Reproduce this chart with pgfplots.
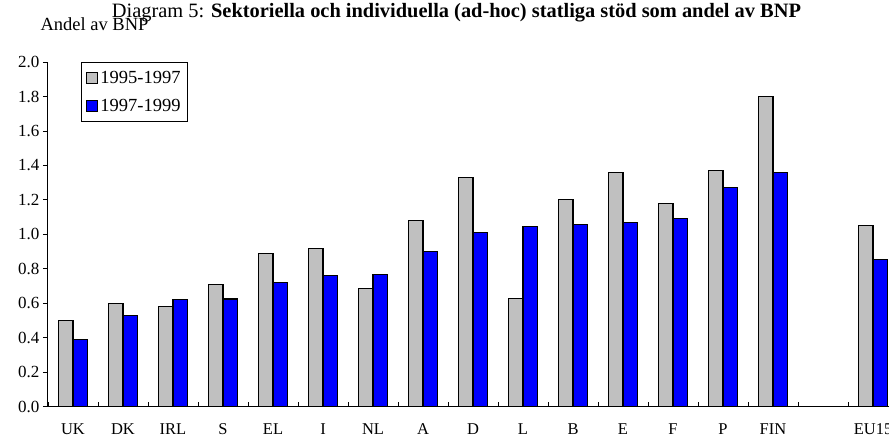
\documentclass[border=0pt]{standalone}
\usepackage{fontspec}
\setmainfont{Liberation Serif}
\usepackage{pgfplots}
\pgfplotsset{compat=1.18}
\definecolor{barGray}{RGB}{192,192,192}
\definecolor{barBlue}{RGB}{0,0,255}

\begin{document}
\begin{tikzpicture}[x=1pt,y=1pt]
\begin{axis}[
    at={(0,0)}, anchor=south west,
    scale only axis,
    width=850pt, height=344.7pt,
    xmin=-0.5, xmax=16.5,
    ymin=0, ymax=2.0,
    axis x line*=bottom, axis y line*=left,
    axis line style={line width=1pt},
    ybar=0pt, bar width=14.7pt,
    xtick={0,...,14,16},
    xticklabels={UK,DK,IRL,S,EL,I,NL,A,D,L,B,E,F,P,FIN,EU15},
    major x tick style={draw=none},
    minor xtick={-0.5,0.5,...,16.5},
    xtick align=inside,
    ytick align=outside,
    major tick length=5pt, minor tick length=5pt,
    tick style={black, line width=0.8pt},
    x tick label style={font=\fontsize{16.5}{18}\selectfont, yshift=-13pt},
    ytick={0,0.2,...,2.0},
    y tick label style={font=\fontsize{17}{19}\selectfont},
    yticklabel style={/pgf/number format/.cd, fixed, fixed zerofill, precision=1, assume math mode=true},
    legend style={at={(rel axis cs:0.0388,1.0)}, anchor=north west,
        draw=black, line width=0.8pt, font=\fontsize{18.5}{20}\selectfont,
        inner xsep=5pt, inner ysep=7pt, row sep=10pt,
        /tikz/every even column/.append style={column sep=2pt}},
    legend image code/.code={\draw[#1, line width=1pt] (0pt,-5.5pt) rectangle (11pt,5.5pt);},
]

% 1995-1997
\addplot[fill=barGray, draw=black, line width=1.2pt] coordinates {
    (0,0.50) (1,0.60) (2,0.58) (3,0.71) (4,0.89) (5,0.92) (6,0.685) (7,1.08)
    (8,1.33) (9,0.63) (10,1.20) (11,1.36) (12,1.18) (13,1.37) (14,1.80) (16,1.05)
};
% 1997-1999
\addplot[fill=barBlue, draw=black, line width=1.2pt] coordinates {
    (0,0.39) (1,0.53) (2,0.62) (3,0.625) (4,0.72) (5,0.76) (6,0.765) (7,0.90)
    (8,1.01) (9,1.045) (10,1.055) (11,1.07) (12,1.09) (13,1.27) (14,1.36) (16,0.855)
};
\legend{1995-1997,1997-1999}

\end{axis}

% title and y label
\node[anchor=base, font=\fontsize{20.4}{22}\selectfont] at (408.5,389.5)
    {Diagram 5: \textbf{Sektoriella och individuella (ad-hoc) statliga stöd som andel av BNP}};
\node[anchor=base west, font=\fontsize{18.5}{20}\selectfont] at (-11,375.7) {Andel av BNP};

% crop to the reference frame
\pgfresetboundingbox
\path[use as bounding box] (-48,-30.3) rectangle (841,406.7);
\end{tikzpicture}
\end{document}
